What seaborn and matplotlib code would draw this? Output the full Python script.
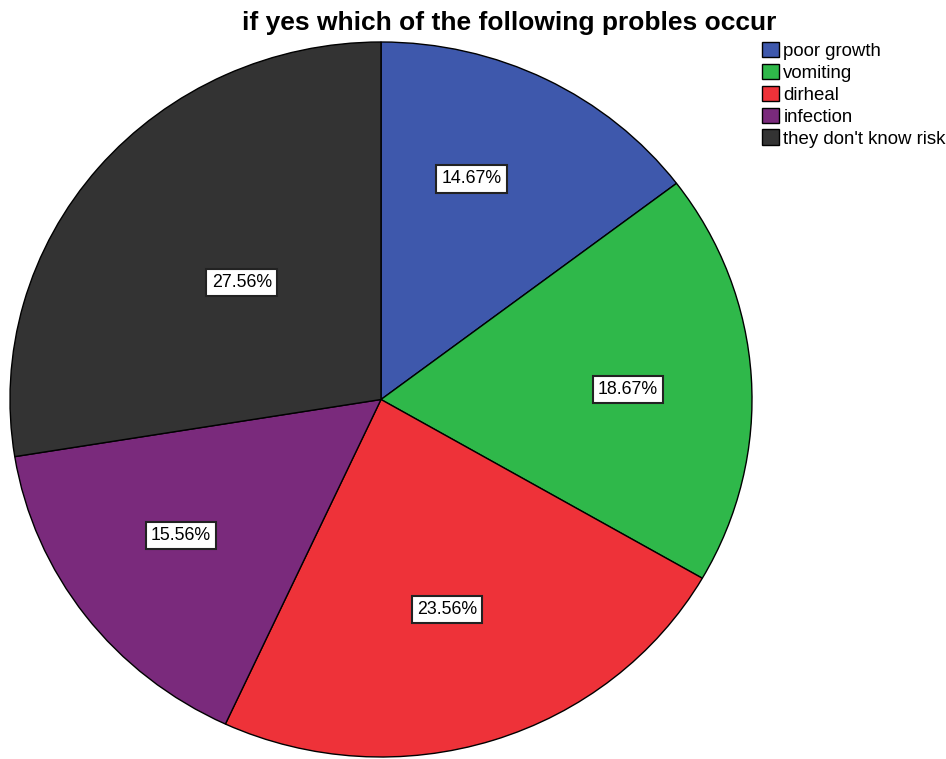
import seaborn as sns
import matplotlib.pyplot as plt

categories = ["poor growth", "vomiting", "dirheal", "infection", "they don't know risk"]
percents = [14.67, 18.67, 23.56, 15.56, 27.56]
colors = ["#3e58ac", "#2fb84a", "#ee3239", "#7a2a7c", "#333333"]
# label placement (fraction of radius)
label_xy = [(0.245, 0.617), (0.666, 0.028), (0.178, -0.587), (-0.539, -0.380), (-0.375, 0.327)]

sns.set_style("white")
plt.rcParams["font.family"] = ["Liberation Sans", "DejaVu Sans"]

fig = plt.figure(figsize=(9.46, 7.59), dpi=100)
ax = fig.add_axes([10 / 946, 2 / 759, 742 / 946, 715 / 759])

wedges, texts, autotexts = ax.pie(
    percents, colors=sns.color_palette(colors), startangle=90, counterclock=False,
    autopct="%.2f%%", pctdistance=0.6,
    wedgeprops=dict(edgecolor="black", linewidth=1.0),
    textprops=dict(fontsize=12.8, color="black"),
)
for t, v, xy in zip(autotexts, percents, label_xy):
    t.set_text(f"{v:.2f}%")
    t.set_position(xy)
    t.set_bbox(dict(boxstyle="square,pad=0.3", facecolor="white", edgecolor="#222222", linewidth=1.5))

ax.set_aspect("auto")
ax.set_xlim(-1, 1)
ax.set_ylim(-1, 1)
ax.axis("off")

fig.text(509 / 946, 1 - 23 / 759, "if yes which of the following probles occur",
         ha="center", va="center", fontsize=19, fontweight="bold", color="black")

fig.legend(wedges, categories, loc="upper left", bbox_to_anchor=(762 / 946, 1 - 42 / 759),
           frameon=False, fontsize=13.4, handlelength=0.9, handleheight=0.9,
           handletextpad=0.25, labelspacing=0.2, borderaxespad=0, borderpad=0,
           labelcolor="black")

plt.savefig("out.png", dpi=100)
